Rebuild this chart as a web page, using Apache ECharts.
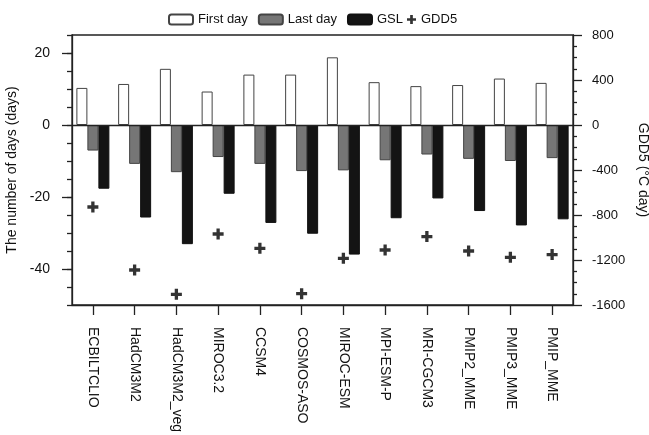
<!DOCTYPE html>
<html>
<head>
<meta charset="utf-8">
<script src="https://cdn.jsdelivr.net/npm/echarts@6/dist/echarts.min.js"></script>
<style>
html,body{margin:0;padding:0;background:#fff;}
#chart{width:649px;height:435px;}
</style>
</head>
<body>
<div id="chart"></div>
<script>
const categories = ['ECBILTCLIO','HadCM3M2','HadCM3M2_veg','MIROC3.2','CCSM4','COSMOS-ASO','MIROC-ESM','MPI-ESM-P','MRI-CGCM3','PMIP2_MME','PMIP3_MME','PMIP_MME'];
const firstDay = [10.3, 11.4, 15.6, 9.3, 14.0, 14.0, 18.8, 11.9, 10.8, 11.1, 12.9, 11.7];
const lastDay = [-7.1, -10.8, -13.1, -8.9, -10.8, -12.8, -12.6, -9.8, -8.2, -9.4, -10.0, -9.2];
const gsl = [-17.7, -25.7, -33.1, -19.1, -27.2, -30.2, -36.0, -25.9, -20.4, -23.9, -27.9, -26.2];
const gdd5 = [-729, -1289, -1505, -969, -1096, -1499, -1185, -1111, -992, -1120, -1176, -1152];
const leftTicks = [-40, -20, 0, 20];

const FONT = '"Liberation Sans", Arial, Helvetica, sans-serif';
const plusPath = 'path://M3.5,0h3v3.5h3.5v3h-3.5v3.5h-3v-3.5h-3.5v-3h3.5z';
const chart = echarts.init(document.getElementById('chart'), null, {renderer: 'canvas'});
const option = {
  animation: false,
  backgroundColor: '#fff',
  textStyle: {fontFamily: FONT},
  grid: {left: 72, right: 76, top: 35, bottom: 130, outerBoundsMode: 'none', containLabel: false,
         show: true, borderColor: '#222', borderWidth: 1.3, backgroundColor: 'transparent'},
  legend: [
    {left: 163, top: 8, itemWidth: 24, itemHeight: 10, itemGap: 10,
     textStyle: {fontSize: 13, color: '#111', fontFamily: FONT},
     data: ['First day', 'Last day', 'GSL']},
    {left: 402, top: 8, itemWidth: 9, itemHeight: 10, itemGap: 3,
     textStyle: {fontSize: 13, color: '#111', fontFamily: FONT},
     data: [{name: 'GDD5', icon: plusPath}]}
  ],
  xAxis: {
    type: 'category', data: categories,
    axisLine: {show: true, onZero: false, lineStyle: {color: '#222', width: 1.3}},
    axisTick: {show: true, alignWithLabel: true, length: 10, lineStyle: {color: '#222', width: 1.3}},
    axisLabel: {rotate: -90, margin: 22, fontSize: 14, color: '#111', fontFamily: FONT, interval: 0},
    splitLine: {show: false}
  },
  yAxis: [
    {type: 'value', position: 'left', min: -50, max: 25,
     name: 'The number of days (days)', nameLocation: 'middle', nameRotate: 90, nameGap: 48,
     nameTextStyle: {fontSize: 14, color: '#111', fontFamily: FONT},
     axisLine: {show: true, lineStyle: {color: '#222', width: 1.3}},
     axisTick: {show: true, length: 10, customValues: leftTicks, lineStyle: {color: '#222', width: 1.3}},
     axisLabel: {customValues: leftTicks, margin: 22, fontSize: 14, color: '#111', fontFamily: FONT},
     splitLine: {show: false}},
    {type: 'value', position: 'right', min: -1600, max: 800, interval: 400,
     name: 'GDD5 (°C day)', nameLocation: 'middle', nameRotate: -90, nameGap: 57,
     nameTextStyle: {fontSize: 14, color: '#111', fontFamily: FONT},
     axisLine: {show: true, lineStyle: {color: '#222', width: 1.3}},
     axisTick: {show: true, length: 9, lineStyle: {color: '#222', width: 1.3}},
     minorTick: {show: true, splitNumber: 4, length: 4, lineStyle: {color: '#222', width: 1.3}},
     axisLabel: {margin: 19, fontSize: 13, color: '#111', fontFamily: FONT, formatter: v => String(v)},
     splitLine: {show: false}, minorSplitLine: {show: false}},
    {type: 'value', position: 'left', min: -50, max: 25, interval: 5,
     axisLine: {show: false},
     axisTick: {show: true, length: 5, lineStyle: {color: '#222', width: 1.3}},
     axisLabel: {show: false}, splitLine: {show: false}}
  ],
  series: [
    {name: 'First day', type: 'bar', data: firstDay, yAxisIndex: 0, barWidth: 11, barGap: '0%',
     itemStyle: {color: '#fff', borderColor: '#444', borderWidth: 1},
     markLine: {silent: true, symbol: 'none', label: {show: false},
       lineStyle: {color: '#222', width: 1.3, type: 'solid'}, data: [{yAxis: 0}]}},
    {name: 'Last day', type: 'bar', data: lastDay, yAxisIndex: 0, barWidth: 11, barGap: '0%',
     itemStyle: {color: '#767676', borderColor: '#444', borderWidth: 1}},
    {name: 'GSL', type: 'bar', data: gsl, yAxisIndex: 0, barWidth: 11, barGap: '0%',
     itemStyle: {color: '#141414', borderColor: '#111', borderWidth: 1}},
    {name: 'GDD5', type: 'scatter', data: gdd5, yAxisIndex: 1, symbol: plusPath, symbolSize: 11,
     itemStyle: {color: '#000'}}
  ]
};
chart.setOption(option);
</script>
</body>
</html>
